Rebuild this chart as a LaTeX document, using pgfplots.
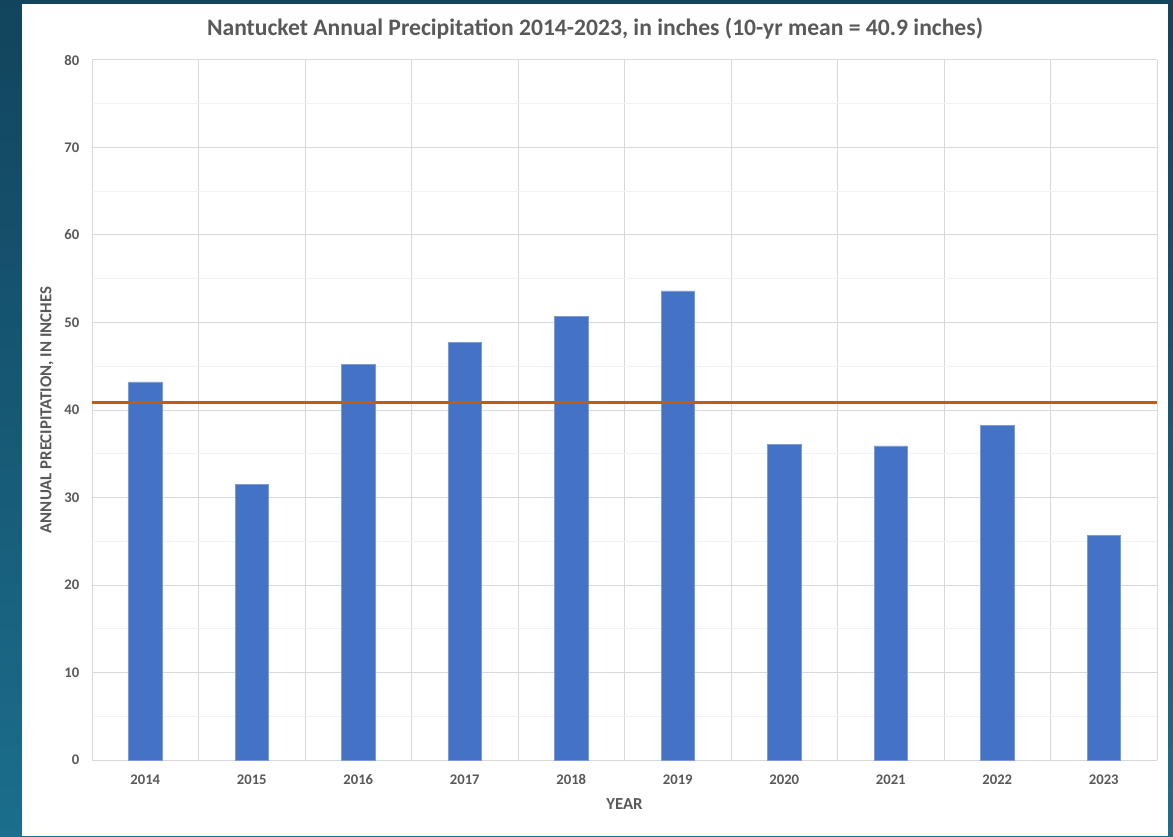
\documentclass[border=0pt]{standalone}
\usepackage{pgfplots}
\pgfplotsset{compat=1.18}
\usepackage{fontspec}
\setmainfont{Carlito}
\definecolor{barblue}{HTML}{4472C4}
\definecolor{meanline}{HTML}{C55A11}
\definecolor{txtgray}{HTML}{595959}
\definecolor{gridmaj}{HTML}{D9D9D9}
\definecolor{gridmin}{HTML}{F2F2F2}
\definecolor{bgtop}{HTML}{12445D}
\definecolor{bgbot}{HTML}{1B6E8D}
\begin{document}
\begin{tikzpicture}
\useasboundingbox (0pt,0pt) rectangle (879.75pt,627pt);
\shade[top color=bgtop, bottom color=bgbot] (0pt,0pt) rectangle (879.75pt,627pt);
\fill[white] (16.5pt,0pt) rectangle (876pt,624pt);
\begin{axis}[
  at={(69pt,57pt)}, anchor=south west,
  scale only axis, width=798.75pt, height=525pt,
  xmin=-0.5, xmax=9.5, ymin=0, ymax=80,
  xtick={0,...,9},
  xticklabels={2014,2015,2016,2017,2018,2019,2020,2021,2022,2023},
  minor xtick={-0.5,0.5,...,9.5},
  ytick={0,10,...,80},
  minor ytick={5,15,...,75},
  xmajorgrids=false, xminorgrids=true,
  ymajorgrids=true, yminorgrids=true,
  major grid style={gridmaj, line width=0.75pt},
  minor grid style={gridmaj, line width=0.75pt},
  every minor y grid/.style={gridmin, line width=0.75pt},
  tick style={draw=none},
  axis x line*=bottom, axis y line*=left,
  x axis line style={gridmaj, line width=0.75pt, -},
  y axis line style={draw=none, -},
  ticklabel style={font=\bfseries\fontsize{11}{13}\selectfont, text=txtgray},
  /pgf/number format/assume math mode=true,
  yticklabel style={xshift=-6pt},
  xticklabel style={yshift=-7pt, text height=1.6ex, text depth=0.2ex},
  xlabel={YEAR}, ylabel={ANNUAL PRECIPITATION, IN INCHES},
  label style={font=\bfseries\fontsize{12.6}{14}\selectfont, text=txtgray},
  xlabel style={at={(axis description cs:0.5,-0.0629)}, anchor=center},
  ylabel style={at={(axis description cs:-0.0423,0.5)}, anchor=center},
  title={Nantucket Annual Precipitation 2014-2023, in inches (10-yr mean = 40.9 inches)},
  title style={at={(axis description cs:0.4723,1.0328)}, anchor=center, font=\bfseries\fontsize{17.7}{20}\selectfont, text=txtgray},
  clip=false,
]
\addplot[ybar, bar width=0.313, fill=barblue, draw=barblue!70!white, line width=0.5pt] coordinates {
  (0,43.2) (1,31.5) (2,45.2) (3,47.7) (4,50.7) (5,53.6) (6,36.1) (7,35.9) (8,38.2) (9,25.7)
};
\addplot[meanline, line width=2.3pt] coordinates {(-0.5,40.9) (9.5,40.9)};
\end{axis}
\end{tikzpicture}
\end{document}
